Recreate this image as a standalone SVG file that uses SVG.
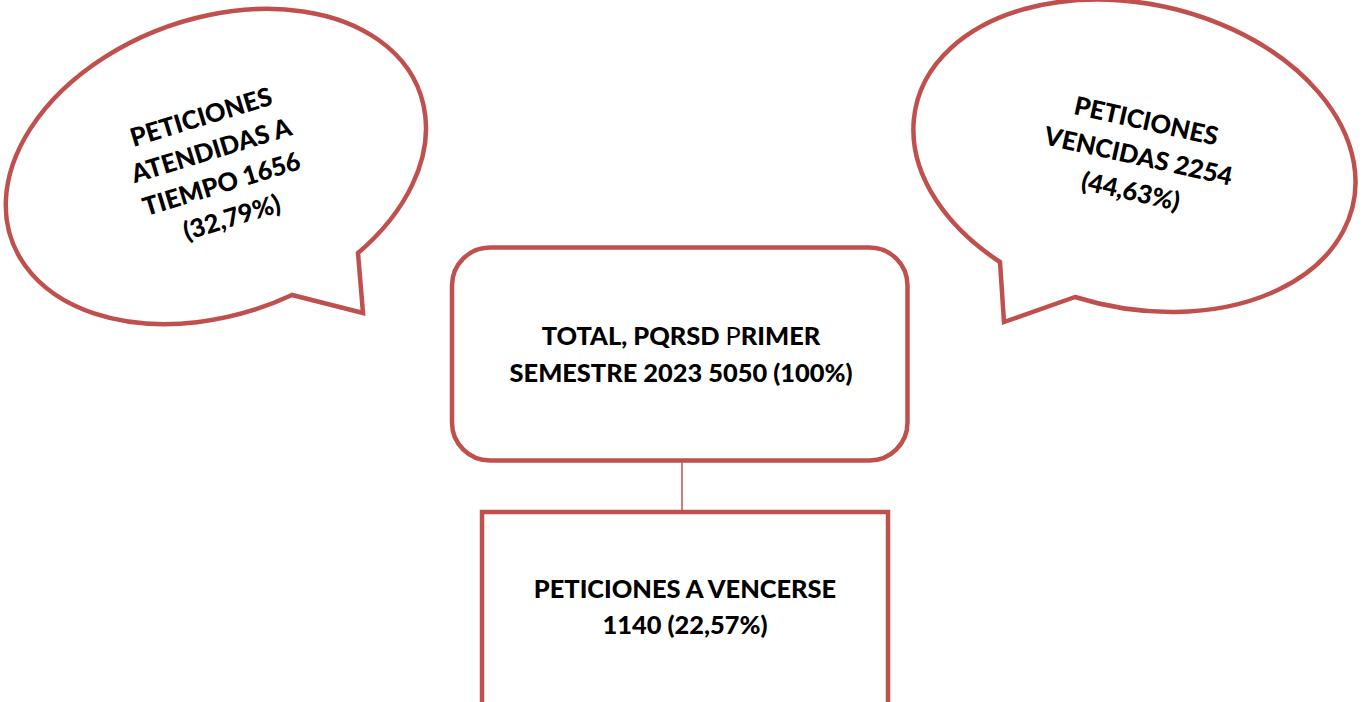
<svg xmlns="http://www.w3.org/2000/svg" width="1367" height="702" viewBox="0 0 1367 702">
<style>
.shape{fill:#FFFFFF;stroke:#C0504D;stroke-width:4.5;stroke-linejoin:miter}
.conn{stroke:#C0504D;stroke-width:1.5;fill:none}
.lbl{font-family:Lato,"Open Sans","Liberation Sans",sans-serif;font-weight:900;font-size:25.4px;fill:#000000;text-anchor:middle}
</style>
<rect width="1367" height="702" fill="#FFFFFF"/>
<g id="connectors">
<line class="conn" x1="682" y1="462" x2="682" y2="512"/>
</g>
<g id="bubble-atendidas">
<path class="shape" d="M292,295 A217,148 -20 1 1 358,253 L363,313 Z"/>
<g transform="translate(217,169) rotate(-17)">
<text class="lbl" x="0" y="-45.5">PETICIONES</text>
<text class="lbl" x="0" y="-10.5">ATENDIDAS A</text>
<text class="lbl" x="0" y="24.5">TIEMPO 1656</text>
<text class="lbl" x="0" y="59.5">(32,79%)</text>
</g>
</g>
<g id="bubble-vencidas">
<path class="shape" d="M1075,297 A224,152 12.7 1 0 1000,262 L1004,322 Z"/>
<g transform="translate(1138,158) rotate(12.5)">
<text class="lbl" x="0" y="-29">PETICIONES</text>
<text class="lbl" x="0" y="7">VENCIDAS 2254</text>
<text class="lbl" x="0" y="43">(44,63%)</text>
</g>
</g>
<g id="total">
<rect class="shape" x="452" y="247.5" width="455.5" height="213" rx="38" ry="38"/>
<text class="lbl" x="681" y="345">TOTAL, PQRSD <tspan font-weight="400">P</tspan>RIMER</text>
<text class="lbl" x="681" y="382">SEMESTRE 2023 5050 (100%)</text>
</g>
<g id="vencerse">
<rect class="shape" x="482" y="512" width="406" height="220"/>
<text class="lbl" x="685" y="598">PETICIONES A VENCERSE</text>
<text class="lbl" x="685" y="634">1140 (22,57%)</text>
</g>
</svg>
